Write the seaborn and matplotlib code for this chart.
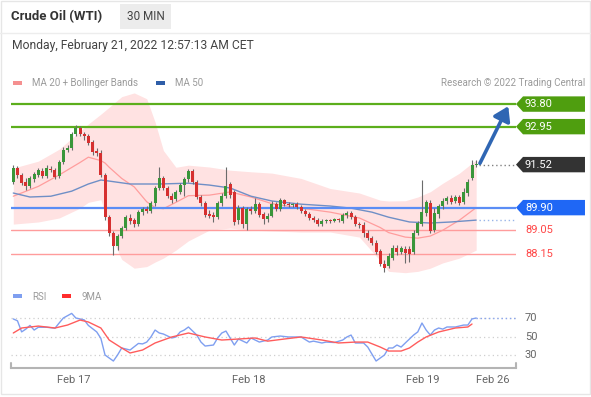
import matplotlib
matplotlib.use('Agg')
import matplotlib.pyplot as plt
import seaborn as sns
import numpy as np
from matplotlib.patches import Rectangle, Polygon

# --- data (30 min bars, WTI) ---
open_ = [90.86, 91.39, 91.13, 90.86, 90.71, 90.98, 91.13, 91.28, 91.09, 91.35,
         91.31, 91.09, 91.62, 92.07, 92.14, 92.67, 92.90, 92.67, 92.59, 92.37,
         92.03, 91.95, 91.13, 89.54, 88.94, 88.45, 88.83, 89.13, 89.51, 89.43,
         89.28, 89.73, 89.85, 89.77, 90.07, 90.64, 91.01, 90.64, 90.33, 90.22,
         90.49, 90.75, 90.98, 91.28, 90.86, 90.30, 90.07, 89.66, 89.62, 89.54,
         90.07, 90.33, 90.79, 90.49, 89.43, 89.88, 89.28, 89.85, 89.77, 90.03,
         89.66, 89.47, 89.58, 90.03, 89.85, 90.18, 90.03, 90.00, 90.03, 89.92,
         89.77, 89.66, 89.51, 89.43, 89.28, 89.39, 89.43, 89.39, 89.47, 89.39,
         89.62, 89.69, 89.54, 89.28, 89.24, 88.94, 88.75, 88.56, 88.26, 87.77,
         87.70, 88.00, 88.38, 88.23, 88.34, 88.34, 88.23, 88.94, 89.28, 89.69,
         90.07, 89.05, 89.66, 89.96, 90.15, 90.26, 90.15, 90.30, 90.11, 90.45,
         91.01, 91.50]
high = [91.50, 91.46, 91.20, 91.01, 91.09, 91.24, 91.39, 91.39, 91.50, 91.46,
        91.39, 91.69, 92.18, 92.26, 92.75, 93.01, 92.97, 92.75, 92.67, 92.44,
        92.14, 92.07, 91.20, 89.62, 89.02, 88.90, 89.20, 89.62, 89.66, 89.51,
        89.81, 89.92, 89.96, 90.15, 90.71, 91.43, 91.09, 90.71, 90.45, 90.56,
        90.82, 91.05, 91.35, 91.35, 90.94, 90.37, 90.15, 89.81, 89.73, 90.15,
        90.45, 91.43, 90.86, 90.56, 90.00, 89.96, 89.92, 89.96, 90.26, 90.11,
        89.73, 89.69, 90.15, 90.11, 90.26, 90.22, 90.11, 90.07, 90.11, 90.00,
        89.85, 89.73, 89.58, 89.51, 89.47, 89.47, 89.47, 89.51, 89.51, 89.69,
        89.77, 89.77, 89.62, 89.36, 89.36, 89.05, 88.83, 88.68, 88.34, 87.92,
        88.19, 88.49, 88.49, 88.45, 88.45, 88.45, 89.05, 89.39, 90.94, 90.18,
        90.18, 89.88, 90.03, 90.26, 90.33, 90.37, 90.37, 90.37, 90.64, 90.98,
        91.69, 91.69]
low = [90.79, 91.01, 90.75, 90.56, 90.64, 90.86, 91.05, 91.01, 91.01, 91.24,
       90.98, 91.01, 91.54, 91.99, 92.07, 92.59, 92.59, 92.44, 92.26, 91.88,
       91.84, 91.05, 89.43, 88.83, 88.11, 88.30, 88.75, 89.05, 89.28, 89.17,
       89.20, 89.62, 89.69, 89.69, 89.96, 90.56, 90.56, 90.26, 90.07, 90.15,
       90.41, 90.33, 90.86, 90.79, 90.22, 89.96, 89.54, 89.51, 89.36, 89.47,
       89.96, 90.26, 90.26, 89.24, 89.28, 89.13, 89.05, 89.66, 89.69, 89.54,
       89.28, 89.36, 89.54, 89.77, 89.77, 89.96, 89.92, 89.92, 89.85, 89.69,
       89.58, 89.43, 89.36, 89.20, 89.20, 89.32, 89.32, 89.36, 89.36, 89.32,
       89.51, 89.47, 89.20, 89.13, 88.79, 88.68, 88.49, 88.15, 87.70, 87.47,
       87.62, 87.92, 88.11, 88.15, 87.81, 87.85, 88.15, 88.87, 89.20, 89.58,
       88.94, 88.98, 89.51, 89.85, 90.03, 90.03, 90.07, 90.00, 90.03, 90.33,
       90.94, 91.43]
close = [91.39, 91.13, 90.82, 90.71, 91.01, 91.16, 91.31, 91.09, 91.39, 91.31,
         91.05, 91.62, 92.07, 92.14, 92.67, 92.90, 92.67, 92.59, 92.33, 91.99,
         91.95, 91.13, 89.54, 88.94, 88.45, 88.83, 89.13, 89.54, 89.39, 89.28,
         89.73, 89.85, 89.77, 90.07, 90.64, 91.01, 90.64, 90.33, 90.18, 90.49,
         90.75, 90.98, 91.28, 90.86, 90.30, 90.07, 89.62, 89.58, 89.54, 90.07,
         90.33, 90.71, 90.37, 89.36, 89.88, 89.28, 89.85, 89.77, 90.03, 89.62,
         89.47, 89.58, 90.03, 89.85, 90.18, 90.03, 90.00, 90.03, 89.92, 89.77,
         89.66, 89.51, 89.43, 89.28, 89.39, 89.43, 89.39, 89.47, 89.43, 89.62,
         89.69, 89.54, 89.28, 89.24, 88.94, 88.75, 88.56, 88.23, 87.77, 87.62,
         88.07, 88.38, 88.23, 88.38, 88.19, 88.15, 88.94, 89.32, 89.73, 90.11,
         89.02, 89.69, 89.96, 90.15, 90.26, 90.11, 90.30, 90.07, 90.49, 90.86,
         91.50, 91.52]

# Bollinger bands / MA 20 sampled along the bars
band_idx = [0, 6, 11, 16, 18, 21, 22, 23, 26, 29, 32, 34, 36, 39, 42, 47, 52, 57,
            62, 69, 76, 83, 88, 90, 94, 97, 100, 103, 107, 111]
bb_upper = [91.39, 91.65, 92.10, 92.78, 93.05, 93.42, 93.55, 93.68, 94.08, 94.22,
            94.00, 93.12, 92.05, 91.42, 91.50, 91.43, 91.31, 91.25, 91.20, 91.00,
            90.62, 90.45, 90.18, 90.15, 90.16, 90.30, 90.50, 90.82, 91.20, 91.70]
ma20 = [90.33, 90.70, 91.13, 91.60, 91.80, 91.67, 91.58, 91.42, 91.00, 90.68,
        90.12, 89.90, 89.86, 90.10, 90.35, 90.37, 90.49, 90.30, 90.05, 89.88,
        89.73, 89.51, 89.15, 88.96, 88.79, 88.75, 88.83, 89.05, 89.43, 89.90]
bb_lower = [89.28, 89.36, 89.51, 89.88, 90.10, 90.20, 89.70, 88.95, 87.95, 87.62,
            87.68, 87.85, 88.00, 88.30, 88.65, 89.05, 89.13, 89.05, 89.02, 88.98,
            88.98, 88.79, 87.90, 87.50, 87.45, 87.50, 87.62, 87.82, 88.00, 88.30]

ma50_idx = [0, 4, 9, 14, 18, 21, 23, 28, 35, 42, 47, 52, 57, 62, 69, 76, 81, 86,
            90, 95, 100, 105, 111]
ma50 = [90.45, 90.30, 90.33, 90.52, 90.79, 90.94, 90.90, 90.79, 90.79, 90.82,
        90.75, 90.64, 90.33, 90.15, 90.03, 89.96, 89.88, 89.73, 89.54, 89.36,
        89.32, 89.36, 89.43]

rsi_idx = [0, 1, 2, 3, 4, 5, 6, 8, 10, 11, 12, 14, 15, 17, 18, 20, 21, 22, 24, 25,
           26, 28, 30, 31, 32, 33, 34, 35, 36, 38, 39, 40, 41, 42, 44, 45, 46, 48,
           49, 50, 51, 53, 54, 56, 57, 59, 61, 62, 64, 66, 69, 71, 72, 74, 75, 77,
           79, 80, 81, 82, 84, 85, 86, 87, 89, 90, 91, 92, 93, 94, 96, 97, 98, 99,
           100, 101, 102, 103, 104, 106, 108, 109, 110, 111]
rsi = [69, 67, 55, 58, 62, 57, 60, 60, 59, 64.6, 70, 75, 70, 68, 62, 55, 48, 30,
       23.5, 30, 37.6, 35.4, 42.5, 42, 44, 49.5, 57, 53.8, 52.7, 48.4, 49.5, 54.9,
       57, 60.3, 51.6, 44, 39.7, 40.8, 48.4, 53.8, 55.9, 40.8, 47.3, 43, 48.4, 44,
       46.2, 49.5, 50.5, 49.5, 49.5, 44, 45, 43, 44, 43.5, 46.2, 49.5, 51.6, 43,
       43, 38.6, 31, 23.5, 30, 37.6, 37.6, 40.8, 38.6, 43, 51.6, 55, 64.6, 57,
       51.6, 57, 59.2, 58, 60.3, 60.3, 62.4, 62.4, 69, 70]
ma9_idx = [0, 2, 6, 10, 13, 16, 18, 21, 23, 26, 28, 31, 34, 38, 42, 46, 50, 54,
           58, 61, 65, 69, 74, 78, 82, 85, 88, 90, 93, 95, 97, 99, 102, 106, 109, 110]
ma9 = [53.8, 59.2, 61.3, 59.2, 62.4, 67.8, 65.7, 59.2, 46.2, 37.6, 32.2, 35.4,
       43, 49.5, 53.8, 49.5, 46.2, 47.3, 48.4, 45, 47.3, 49.5, 46.2, 43, 44, 44,
       38.6, 34.3, 34.3, 37.6, 44, 49.5, 54.9, 59.2, 60.3, 63.5]

resistances = [93.80, 92.95]
pivot = 89.90
supports = [89.05, 88.15]
rsi_levels = [70, 50, 30]
tick_pos = [14.6, 56.5, 98.2, 115.0]
tick_labels = ['Feb 17', 'Feb 18', 'Feb 19', 'Feb 26']

sns.set_theme(style='white')
plt.rcParams['font.family'] = ['Roboto', 'DejaVu Sans']

W, H = 591, 397
fig = plt.figure(figsize=(W / 100, H / 100), dpi=100)
fig.patch.set_facecolor('white')


def fx(x):
    return x / W


def fy(y):
    return 1 - y / H


ax = fig.add_axes([fx(11), fy(278), 505 / W, 188 / H])
rsi_ax = fig.add_axes([fx(11), fy(368), 505 / W, 62 / H])
xmin, xmax = -0.55, 120.55

# bands and moving averages
ax.fill_between(band_idx, bb_lower, bb_upper, color='#ffe2e2', lw=0, zorder=1)
sns.lineplot(x=band_idx, y=ma20, ax=ax, color='#ff9d9d', lw=0.9, zorder=2)
sns.lineplot(x=ma50_idx, y=ma50, ax=ax, color='#6f8fc6', lw=1.0, zorder=2)

# key levels
for lv in resistances:
    ax.axhline(lv, color='#5cae1c', lw=1.6, zorder=2)
ax.axhline(pivot, color='#5b8df5', lw=1.6, zorder=2)
for lv in supports:
    ax.axhline(lv, color='#ff9c9c', lw=1.0, zorder=2)

# candles
o = np.array(open_)
c = np.array(close)
xs = np.arange(len(c))
colors = np.where(c >= o, '#3a963a', '#d63030')
body_low = np.minimum(o, c)
body_h = np.maximum(np.abs(c - o), 0.025)
ax.vlines(xs, low, high, color='#6b6b6b', lw=0.8, zorder=3)
ax.bar(xs, body_h, bottom=body_low, width=0.72, color=colors, lw=0, zorder=4)

# extensions from last bar
last_x = xs[-1] + 0.6
ax.plot([last_x, xmax], [c[-1], c[-1]], color='#808080', lw=1.0, ls=(0, (1, 2)), zorder=3)
ax.plot([last_x, xmax], [ma50[-1], ma50[-1]], color='#98b4e8', lw=1.0, ls=(0, (1, 2)), zorder=3)
ax.annotate('', xy=(xs[-1] + 7.7, resistances[0] - 0.08), xytext=(xs[-1] + 0.9, c[-1] + 0.05),
            arrowprops=dict(arrowstyle='-|>,head_length=0.7,head_width=0.45', color='#2f66b3',
                            lw=2.6, shrinkA=0, shrinkB=0), zorder=6)

ax.set_xlim(xmin, xmax)
ax.set_ylim(87.25, 94.33)
ax.set_axis_off()

# price tags on the right
tr = ax.get_yaxis_transform()


def tag(y, text, fc):
    hh = 0.29
    pts = [(1.0, y), (1.0139, y + hh), (1.1366, y + hh), (1.1366, y - hh), (1.0139, y - hh)]
    ax.add_patch(Polygon(pts, closed=True, transform=tr, fc=fc, ec='none', clip_on=False))
    ax.text(1.0178, y, text, transform=tr, color='white', fontsize=8, va='center',
            ha='left', clip_on=False)


for lv in resistances:
    tag(lv, f'{lv:.2f}', '#4f9e0f')
tag(c[-1], f'{c[-1]:.2f}', '#333333')
tag(pivot, f'{pivot:.2f}', '#1f67f5')
for lv in supports:
    ax.text(1.0178, lv, f'{lv:.2f}', transform=tr, color='#ff4747', fontsize=8,
            va='center', ha='left', clip_on=False)

# RSI panel
for lv in rsi_levels:
    rsi_ax.axhline(lv, color='#cfcfcf', lw=0.9, ls=(0, (1, 2.5)), zorder=0)
    rsi_ax.text(1.0178, lv, str(lv), transform=rsi_ax.get_yaxis_transform(), fontsize=8,
                color='#666666', va='center', ha='left')
sns.lineplot(x=rsi_idx, y=rsi, ax=rsi_ax, color='#7f9ff0', lw=1.0)
sns.lineplot(x=ma9_idx, y=ma9, ax=rsi_ax, color='#ff5c5c', lw=1.0)
rsi_ax.plot([rsi_idx[-1], xmax], [rsi[-1], rsi[-1]], color='#8aa6f0', lw=1.0, ls=(0, (1, 2)))
rsi_ax.set_xlim(xmin, xmax)
rsi_ax.set_ylim(15.95, 83)
rsi_ax.set_yticks([])
rsi_ax.set_xticks(tick_pos)
rsi_ax.set_xticklabels(tick_labels, fontsize=8, color='#666666')
rsi_ax.tick_params(axis='x', length=0, pad=5)
rsi_ax.set_xlabel('')
rsi_ax.set_ylabel('')
for s in ['top', 'left', 'right']:
    rsi_ax.spines[s].set_visible(False)
rsi_ax.spines['bottom'].set_color('#b4b4b4')
rsi_ax.spines['bottom'].set_linewidth(1.5)
for ex in (0, 1):
    rsi_ax.plot([ex, ex], [0, 0.08], transform=rsi_ax.transAxes, color='#b4b4b4',
                lw=1.5, clip_on=False)

# header
fig.add_artist(Rectangle((fx(120), fy(29)), 51 / W, 25 / H, transform=fig.transFigure,
                         fc='#ececec', ec='none'))
fig.text(fx(145.5), fy(16.5), '30 MIN', fontsize=8.5, color='#444444', ha='center', va='center')
fig.text(fx(11), fy(16.5), 'Crude Oil (WTI)', fontsize=9.5, fontweight='bold',
         color='#333333', va='center')
fig.text(fx(12), fy(45), 'Monday, February 21, 2022 12:57:13 AM CET', fontsize=8.7,
         color='#444444', va='center')
fig.add_artist(plt.Line2D([0, 1], [fy(33), fy(33)], transform=fig.transFigure,
                          color='#ededed', lw=1))

# legends
fig.add_artist(Rectangle((fx(13), fy(85)), 9 / W, 4 / H, transform=fig.transFigure,
                         fc='#f59090', ec='none'))
fig.text(fx(32), fy(83), 'MA 20 + Bollinger Bands', fontsize=7, color='#9a9a9a', va='center')
fig.add_artist(Rectangle((fx(156), fy(85)), 9 / W, 4 / H, transform=fig.transFigure,
                         fc='#2f5ea8', ec='none'))
fig.text(fx(175), fy(83), 'MA 50', fontsize=7, color='#9a9a9a', va='center')
fig.text(fx(585), fy(83), 'Research \u00a9 2022 Trading Central', fontsize=7,
         color='#9a9a9a', va='center', ha='right')

fig.add_artist(Rectangle((fx(13), fy(298)), 9 / W, 4 / H, transform=fig.transFigure,
                         fc='#7f9ff0', ec='none'))
fig.text(fx(32), fy(296.5), 'RSI', fontsize=7, color='#9a9a9a', va='center')
fig.add_artist(Rectangle((fx(62), fy(298)), 9 / W, 4 / H, transform=fig.transFigure,
                         fc='#ff2d2d', ec='none'))
fig.text(fx(81), fy(296.5), '9MA', fontsize=7, color='#9a9a9a', va='center')

# card border
fig.add_artist(Rectangle((fx(1), fy(394)), 589 / W, 393 / H, transform=fig.transFigure,
                         fill=False, ec='#e6e6e6', lw=1))

fig.savefig('out.png', dpi=100, facecolor='white')
